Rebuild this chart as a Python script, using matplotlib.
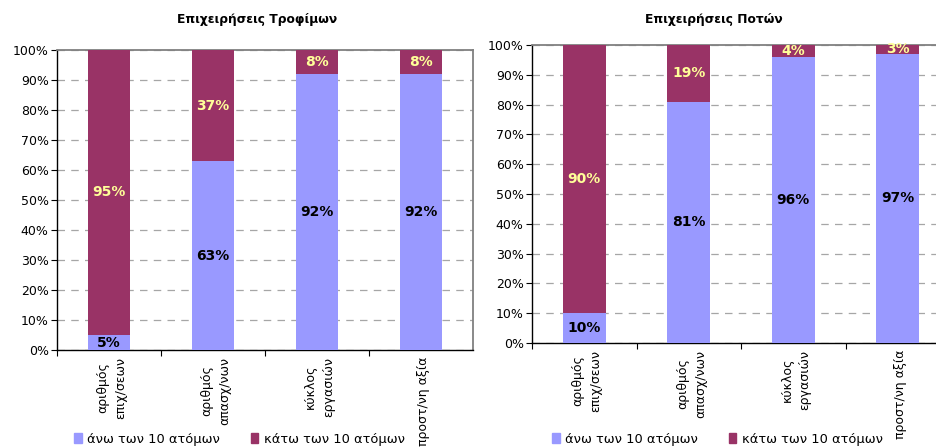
import matplotlib.pyplot as plt
from matplotlib.patches import Patch

W, H = 937, 448

categories = ['αριθμός\nεπιχ/σεων', 'αριθμός\nαπασχ/νων', 'κύκλος\nεργασιών', 'προστ/νη αξία']
series_names = ['άνω των 10 ατόμων', 'κάτω των 10 ατόμων']

food_above = [5, 63, 92, 92]
food_below = [95, 37, 8, 8]
drink_above = [10, 81, 96, 97]
drink_below = [90, 19, 4, 3]

BLUE = '#9999FF'
MAROON = '#993366'
YELLOW = '#FFFF99'
GRID = '#A6A6A6'

plt.rcParams['font.family'] = ['DejaVu Sans']

fig = plt.figure(figsize=(W / 100, H / 100), dpi=100)


def px_box(left, top, right, bottom):
    return [left / W, 1 - bottom / H, (right - left) / W, (bottom - top) / H]


def make_chart(ax, above, below, title, title_x, legend_x):
    x = list(range(len(categories)))
    b1 = ax.bar(x, above, width=0.41, color=BLUE, zorder=3)
    b2 = ax.bar(x, below, width=0.41, bottom=above, color=MAROON, zorder=3)
    ax.bar_label(b1, labels=[f'{v}%' for v in above], label_type='center',
                 color='black', fontweight='bold', fontsize=10, zorder=4)
    ax.bar_label(b2, labels=[f'{v}%' for v in below], label_type='center',
                 color=YELLOW, fontweight='bold', fontsize=10, zorder=4)

    ax.set_xlim(-0.5, len(categories) - 0.5)
    ax.set_ylim(0, 100)
    ax.set_yticks(range(0, 101, 10))
    ax.set_yticklabels([f'{v}%' for v in range(0, 101, 10)], fontsize=9)
    ax.yaxis.grid(True, color=GRID, linestyle=(0, (6, 5)), linewidth=0.9, zorder=0)

    ax.set_xticks([i + 0.5 for i in range(len(categories) - 1)] + [-0.5])
    ax.set_xticklabels([])
    ax.tick_params(axis='x', direction='out', length=4, width=0.8, color='black')
    ax.tick_params(axis='y', direction='out', length=4, width=0.8, pad=2, color='black')
    for i, c in enumerate(categories):
        ax.annotate(c, xy=(i, 0), xycoords=('data', 'axes fraction'),
                    xytext=(2, -5), textcoords='offset points',
                    rotation=90, ha='center', va='top', multialignment='center',
                    fontsize=9.0, linespacing=1.5)

    for s in ['top', 'right']:
        ax.spines[s].set_color('#808080')
        ax.spines[s].set_linewidth(1.3)
    for s in ['left', 'bottom']:
        ax.spines[s].set_color('black')
        ax.spines[s].set_linewidth(1.0)

    fig.text(title_x / W, 1 - 20 / H, title, ha='center', va='center',
             fontsize=8.8, fontweight='bold')

    handles = [Patch(color=BLUE), Patch(color=MAROON)]
    fig.legend(handles, series_names, loc='center left',
               bbox_to_anchor=(legend_x / W, 1 - 439 / H), bbox_transform=fig.transFigure,
               ncol=2, frameon=False, fontsize=9.4, handlelength=0.6, handleheight=0.7,
               handletextpad=0.4, columnspacing=2.35, borderpad=0, borderaxespad=0)


ax1 = fig.add_axes(px_box(57, 50, 473, 350))
make_chart(ax1, food_above, food_below, 'Επιχειρήσεις Τροφίμων', 257, 74)

ax2 = fig.add_axes(px_box(532, 45, 950, 343))
make_chart(ax2, drink_above, drink_below, 'Επιχειρήσεις Ποτών', 714, 552)

fig.savefig('out.png', dpi=100)
